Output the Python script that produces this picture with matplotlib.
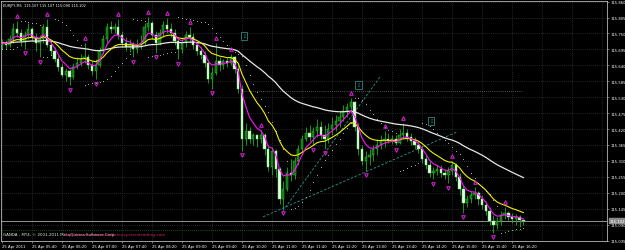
import matplotlib
matplotlib.use("Agg")
import matplotlib.pyplot as plt
import matplotlib.transforms as mtransforms
import numpy as np
import pandas as pd

# EURJPY M5, 25 Apr 2011, 140 bars from 05:00 to 16:35
bar_open = [
    115.710, 115.717, 115.710, 115.731, 115.766, 115.752, 115.724, 115.745, 115.766, 115.738,
    115.717, 115.731, 115.772, 115.710, 115.690, 115.662, 115.634, 115.607, 115.621, 115.600,
    115.634, 115.648, 115.662, 115.669, 115.641, 115.621, 115.641, 115.690, 115.731, 115.772,
    115.766, 115.772, 115.745, 115.717, 115.703, 115.714, 115.697, 115.710, 115.717, 115.772,
    115.786, 115.745, 115.717, 115.752, 115.779, 115.766, 115.752, 115.724, 115.697, 115.717,
    115.745, 115.738, 115.710, 115.690, 115.676, 115.648, 115.593, 115.614, 115.655, 115.641,
    115.655, 115.648, 115.669, 115.628, 115.559, 115.386, 115.414, 115.386, 115.400, 115.386,
    115.400, 115.352, 115.289, 115.345, 115.283, 115.179, 115.214, 115.269, 115.262, 115.310,
    115.352, 115.386, 115.407, 115.393, 115.414, 115.427, 115.400, 115.386, 115.421, 115.434,
    115.448, 115.462, 115.483, 115.496, 115.514, 115.427, 115.352, 115.310, 115.324, 115.331,
    115.352, 115.365, 115.379, 115.386, 115.379, 115.386, 115.372, 115.400, 115.407, 115.393,
    115.379, 115.365, 115.352, 115.317, 115.296, 115.269, 115.276, 115.283, 115.269, 115.262,
    115.276, 115.296, 115.255, 115.214, 115.165, 115.179, 115.193, 115.200, 115.179, 115.158,
    115.138, 115.103, 115.090, 115.103, 115.124, 115.131, 115.117, 115.110, 115.117, 115.107,
]
bar_high = [
    115.731, 115.728, 115.745, 115.786, 115.793, 115.766, 115.759, 115.786, 115.772, 115.752,
    115.745, 115.783, 115.800, 115.724, 115.703, 115.676, 115.648, 115.631, 115.628, 115.648,
    115.669, 115.679, 115.717, 115.679, 115.655, 115.662, 115.703, 115.745, 115.786, 115.793,
    115.786, 115.800, 115.759, 115.738, 115.731, 115.721, 115.731, 115.745, 115.786, 115.807,
    115.793, 115.759, 115.766, 115.793, 115.803, 115.786, 115.766, 115.731, 115.731, 115.759,
    115.772, 115.752, 115.717, 115.703, 115.690, 115.662, 115.634, 115.717, 115.669, 115.662,
    115.665, 115.679, 115.672, 115.641, 115.572, 115.441, 115.427, 115.407, 115.400, 115.417,
    115.407, 115.365, 115.358, 115.352, 115.289, 115.241, 115.289, 115.317, 115.324, 115.365,
    115.400, 115.427, 115.434, 115.427, 115.455, 115.448, 115.434, 115.441, 115.462, 115.469,
    115.483, 115.503, 115.510, 115.527, 115.517, 115.441, 115.365, 115.345, 115.352, 115.365,
    115.386, 115.400, 115.414, 115.407, 115.400, 115.400, 115.421, 115.441, 115.421, 115.407,
    115.393, 115.379, 115.365, 115.331, 115.310, 115.289, 115.296, 115.296, 115.283, 115.289,
    115.310, 115.303, 115.269, 115.227, 115.193, 115.207, 115.220, 115.207, 115.193, 115.172,
    115.151, 115.124, 115.117, 115.138, 115.151, 115.138, 115.131, 115.127, 115.124, 115.107,
]
bar_low = [
    115.697, 115.697, 115.703, 115.717, 115.738, 115.707, 115.697, 115.731, 115.724, 115.690,
    115.669, 115.717, 115.703, 115.676, 115.652, 115.621, 115.600, 115.586, 115.572, 115.593,
    115.628, 115.638, 115.648, 115.628, 115.607, 115.593, 115.634, 115.679, 115.717, 115.752,
    115.752, 115.731, 115.703, 115.690, 115.686, 115.669, 115.683, 115.697, 115.710, 115.759,
    115.731, 115.683, 115.710, 115.738, 115.752, 115.738, 115.710, 115.662, 115.683, 115.703,
    115.717, 115.697, 115.676, 115.662, 115.634, 115.579, 115.559, 115.607, 115.621, 115.628,
    115.634, 115.641, 115.614, 115.545, 115.345, 115.365, 115.372, 115.365, 115.358, 115.372,
    115.331, 115.276, 115.262, 115.255, 115.162, 115.145, 115.207, 115.241, 115.248, 115.296,
    115.338, 115.379, 115.379, 115.365, 115.393, 115.386, 115.352, 115.372, 115.400, 115.414,
    115.427, 115.448, 115.462, 115.476, 115.414, 115.331, 115.296, 115.276, 115.296, 115.310,
    115.331, 115.352, 115.358, 115.372, 115.369, 115.365, 115.369, 115.393, 115.379, 115.365,
    115.352, 115.338, 115.303, 115.283, 115.255, 115.248, 115.262, 115.255, 115.248, 115.234,
    115.262, 115.241, 115.193, 115.131, 115.151, 115.165, 115.179, 115.158, 115.145, 115.124,
    115.090, 115.062, 115.076, 115.090, 115.110, 115.103, 115.096, 115.090, 115.082, 115.090,
]
bar_close = [
    115.717, 115.710, 115.731, 115.766, 115.752, 115.724, 115.745, 115.766, 115.738, 115.717,
    115.731, 115.772, 115.710, 115.690, 115.662, 115.634, 115.607, 115.621, 115.600, 115.634,
    115.648, 115.662, 115.669, 115.641, 115.621, 115.641, 115.690, 115.731, 115.772, 115.766,
    115.772, 115.745, 115.717, 115.703, 115.714, 115.697, 115.710, 115.717, 115.772, 115.786,
    115.745, 115.717, 115.752, 115.779, 115.766, 115.752, 115.724, 115.697, 115.717, 115.745,
    115.738, 115.710, 115.690, 115.676, 115.648, 115.593, 115.614, 115.655, 115.641, 115.655,
    115.648, 115.669, 115.628, 115.559, 115.386, 115.414, 115.386, 115.400, 115.386, 115.400,
    115.352, 115.289, 115.345, 115.283, 115.179, 115.214, 115.269, 115.262, 115.310, 115.352,
    115.386, 115.407, 115.393, 115.414, 115.427, 115.400, 115.386, 115.421, 115.434, 115.448,
    115.462, 115.483, 115.496, 115.514, 115.427, 115.352, 115.310, 115.324, 115.331, 115.352,
    115.365, 115.379, 115.386, 115.379, 115.386, 115.372, 115.400, 115.407, 115.393, 115.379,
    115.365, 115.352, 115.317, 115.296, 115.269, 115.276, 115.283, 115.269, 115.262, 115.276,
    115.296, 115.255, 115.214, 115.165, 115.179, 115.193, 115.200, 115.179, 115.158, 115.138,
    115.103, 115.090, 115.103, 115.124, 115.131, 115.117, 115.110, 115.117, 115.107, 115.102,
]

# bars carrying a fractal arrow
fractal_up = [4, 12, 22, 31, 39, 44, 50, 57, 61, 69, 93, 102, 107, 120, 126, 134]
fractal_down = [6, 10, 18, 25, 35, 41, 47, 56, 64, 75, 83, 86, 97, 105, 115, 119, 123, 131]

time_ticks = [0, 8, 16, 24, 32, 40, 48, 56, 64, 72, 80, 88, 96, 104, 112, 120, 128, 136]
time_labels = ["25 Apr 2011", "25 Apr 05:40", "25 Apr 06:20", "25 Apr 07:00", "25 Apr 07:40",
               "25 Apr 08:20", "25 Apr 09:00", "25 Apr 09:40", "25 Apr 10:20", "25 Apr 11:00",
               "25 Apr 11:40", "25 Apr 12:20", "25 Apr 13:00", "25 Apr 13:40", "25 Apr 14:20",
               "25 Apr 15:00", "25 Apr 15:40", "25 Apr 16:20"]
price_ticks = [115.035, 115.090, 115.145, 115.200, 115.255, 115.310, 115.365, 115.420,
               115.475, 115.530, 115.585, 115.640, 115.695, 115.750, 115.805, 115.860]

bid = 115.102
title = "EURJPY,M5  115.107 115.107 115.090 115.102"
level_green = 115.072
level_gray = 115.552
trend_lines = [((69.6, 115.117), (121.3, 115.410)), ((74.9, 115.138), (100.8, 115.600))]
signal_boxes = [(64.5, 115.741), (95.0, 115.572), (114.4, 115.448)]


def parabolic_sar(high, low, step=0.02, max_step=0.2):
    sar = np.zeros(len(high))
    sar[0] = low[0]
    up, af, ep = True, step, high[0]
    for i in range(1, len(high)):
        s = sar[i - 1] + af * (ep - sar[i - 1])
        j = max(i - 2, 0)
        if up:
            s = min(s, low[i - 1], low[j])
            if low[i] < s:
                up, s, ep, af = False, ep, low[i], step
            elif high[i] > ep:
                ep, af = high[i], min(af + step, max_step)
        else:
            s = max(s, high[i - 1], high[j])
            if high[i] > s:
                up, s, ep, af = True, ep, high[i], step
            elif low[i] < ep:
                ep, af = low[i], min(af + step, max_step)
        sar[i] = s
    return sar


df = pd.DataFrame({"open": bar_open, "high": bar_high, "low": bar_low, "close": bar_close})
n = len(df)
x = np.arange(n)

fig = plt.figure(figsize=(6.25, 2.51), dpi=100, facecolor="black")
ax = fig.add_axes([1 / 625, 9.4 / 251, 606 / 625, 239.6 / 251], facecolor="black")
ax.set_xlim(-0.27, 161.3)
ax.set_ylim(115.035, 115.862)

# grid
for k in range(0, 162, 8):
    ax.axvline(k, color="#4a4a4a", lw=0.5, ls=(0, (1, 2)), zorder=0)
for p in price_ticks:
    ax.axhline(p, color="#4a4a4a", lw=0.5, ls=(0, (1, 2)), zorder=0)

# candles
bull = df.close >= df.open
ax.vlines(x, df.low, df.high, color="#1fae1f", lw=0.6, zorder=2)
body_lo = np.minimum(df.open, df.close)
body_h = np.maximum(np.abs(df.close - df.open), 0.0012)
ax.bar(x[bull], body_h[bull], bottom=body_lo[bull], width=0.62,
       color="#0d6a0d", edgecolor="#2fcf2f", linewidth=0.35, zorder=3)
ax.bar(x[~bull], body_h[~bull], bottom=body_lo[~bull], width=0.62,
       color="#e4ffe4", edgecolor="#6fdc6f", linewidth=0.35, zorder=3)

# moving averages
ax.plot(x, df.close.ewm(span=50, adjust=False).mean(), color="#e6e6e6", lw=0.9, zorder=4)
ax.plot(x, df.close.ewm(span=13, adjust=False).mean(), color="#f0f000", lw=0.8, zorder=4)
ax.plot(x, df.close.ewm(span=5, adjust=False).mean(), color="#ff10ff", lw=0.8, zorder=5)

# parabolic SAR
sar = parabolic_sar(df.high.to_numpy(), df.low.to_numpy())
ax.plot(x, sar, ls="none", marker="o", ms=0.7, mfc="#d8d8d8", mec="none", zorder=4)

# fractals
ax.plot(fractal_up, df.high[fractal_up] + 0.016, ls="none", marker="^", ms=2.6,
        mfc="none", mec="#e020e0", mew=0.7, zorder=6)
ax.plot(fractal_down, df.low[fractal_down] - 0.016, ls="none", marker="v", ms=2.6,
        mfc="none", mec="#e020e0", mew=0.7, zorder=6)

# drawn objects
ax.hlines(level_green, 0, n - 1, color="#1a7a1a", lw=0.6, ls=(0, (1, 1.5)), zorder=1)
ax.hlines(level_gray, 64, n - 1, color="#9a9a9a", lw=0.5, ls=(0, (1, 2)), zorder=1)
for (x0, y0), (x1, y1) in trend_lines:
    ax.plot([x0, x1], [y0, y1], color="#2a9a8a", lw=0.6, ls=(0, (3, 2)), zorder=2)
for bx, by in signal_boxes:
    ax.text(bx, by, "⇩", color="#2aa59a", fontsize=3.6, ha="center", va="center", zorder=7,
            bbox=dict(boxstyle="square,pad=0.25", fc="black", ec="#2aa59a", lw=0.5))
ax.axhline(bid, color="#a8a8a8", lw=0.6, zorder=1)

# axes styling
for s in ax.spines.values():
    s.set_color("#b8b8b8")
    s.set_linewidth(0.6)
ax.set_xticks(time_ticks)
ax.set_xticklabels(time_labels, ha="left")
ax.set_yticks(price_ticks)
ax.set_yticklabels([f"{p:.3f}" for p in price_ticks])
ax.yaxis.tick_right()
ax.tick_params(axis="both", colors="#b8b8b8", labelcolor="white", labelsize=2.7,
               length=1.5, width=0.4, pad=1)

trans = mtransforms.blended_transform_factory(ax.transAxes, ax.transData)
ax.text(1.004, bid, f"{bid:.3f}", transform=trans, color="white", fontsize=2.7,
        va="center", ha="left", zorder=8, clip_on=False,
        bbox=dict(boxstyle="square,pad=0.2", fc="#8a8a8a", ec="#8a8a8a", lw=0.3))

ax.text(0.004, 0.992, title, transform=ax.transAxes, color="white", fontsize=2.5,
        ha="left", va="top")
# the two footer captions overlap in the original terminal screenshot as well
ax.text(0.004, 0.02, "GANDA - MT4, © 2001-2011 MetaQuotes Software Corp.",
        transform=ax.transAxes, color="#e8e8e8", fontsize=2.9, ha="left", va="bottom")
ax.text(0.103, 0.02, "http://www.automatedforexsystemtrading.com",
        transform=ax.transAxes, color="#d0206a", fontsize=3.2, ha="left", va="bottom")

fig.savefig("out.png", dpi=100, facecolor="black")
